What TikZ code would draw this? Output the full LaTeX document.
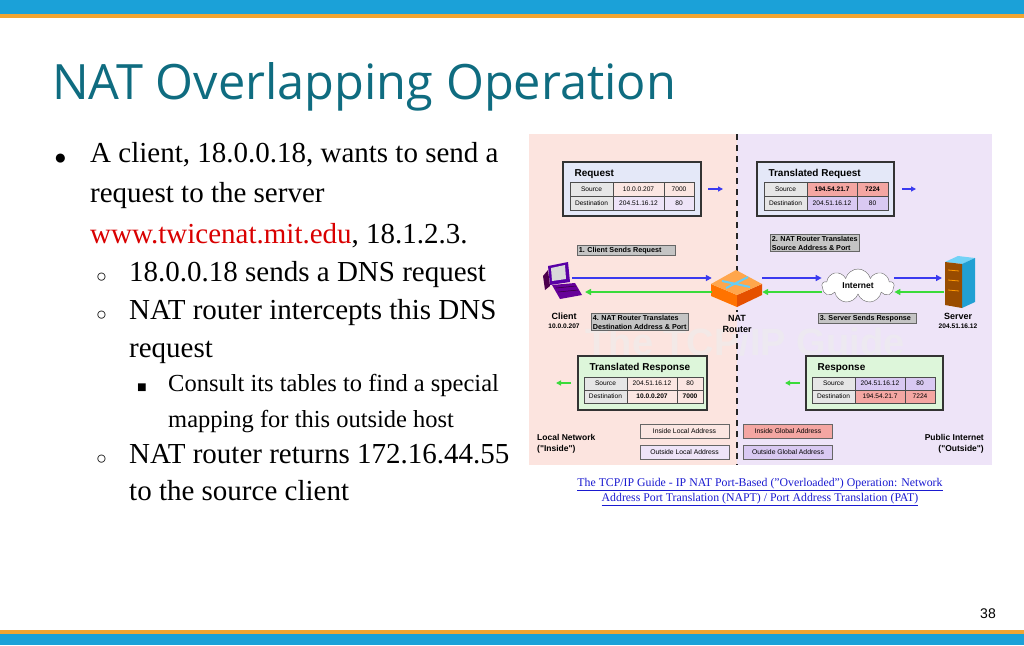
\documentclass[tikz,border=0pt]{standalone}
\usepackage{fontspec}
\setmainfont{Liberation Serif}
\newfontfamily\titlefont{Open Sans}
\newfontfamily\dsans{Liberation Sans}
\usetikzlibrary{shapes.symbols,arrows.meta}
\definecolor{topblue}{HTML}{1BA1D8}
\definecolor{barorange}{HTML}{F2A531}
\definecolor{titlecol}{HTML}{0F6C80}
\definecolor{lpink}{HTML}{FCE4DF}
\definecolor{lviol}{HTML}{EEE4F8}
\definecolor{boxblue}{HTML}{E4E8F8}
\definecolor{boxgreen}{HTML}{DDF6DA}
\definecolor{cred}{HTML}{F4A6A2}
\definecolor{cviol}{HTML}{D9C9F2}
\definecolor{cpink}{HTML}{FBE6E2}
\definecolor{cgray}{HTML}{E6E6E6}
\definecolor{lblgray}{HTML}{C4C4C4}
\definecolor{lineblue}{HTML}{3A3AF0}
\definecolor{linegreen}{HTML}{3ADB3A}
\definecolor{linkblue}{HTML}{1A1AD0}
\newcommand\cellbox[6]{\path[draw=black!70,fill=#5,line width=0.6] (#1,#2) rectangle (#3,#4);
  \node[font=\dsans\fontsize{6.6}{7}\selectfont] at ({(#1+#3)/2},{(#2+#4)/2}) {#6};}
\tikzset{
  bigbox/.style={draw=black!80,line width=1.6},
  lbl/.style={draw=black!60,fill=lblgray,line width=0.6,font=\dsans\bfseries\fontsize{7.2}{9}\selectfont,align=left,inner sep=1.5,anchor=north west},
  leg/.style={draw=black!60,line width=0.6,font=\dsans\fontsize{6.8}{7}\selectfont,minimum width=89,minimum height=14,inner sep=0},
  dlab/.style={font=\dsans\bfseries\fontsize{9}{10}\selectfont,align=center},
  dsub/.style={font=\dsans\bfseries\fontsize{6.6}{7}\selectfont},
  btitle/.style={font=\dsans\bfseries\fontsize{10}{10}\selectfont,anchor=base west},
  body/.style={anchor=base west,font=\fontsize{29}{30}\selectfont},
  sub/.style={anchor=base west,font=\fontsize{24.5}{26}\selectfont},
  blueln/.style={draw=lineblue,line width=2,-{Triangle[length=6,width=6]}},
  greenln/.style={draw=linegreen,line width=2,-{Triangle[length=6,width=6]}},
}
\begin{document}
\begin{tikzpicture}[x=1pt,y=-1pt]
\useasboundingbox (0,0) rectangle (1024,645);
\fill[white] (0,0) rectangle (1024,645);
% bars
\fill[topblue] (0,0) rectangle (1024,14);
\fill[barorange] (0,14) rectangle (1024,18);
\fill[barorange] (0,630) rectangle (1024,634);
\fill[topblue] (0,634) rectangle (1024,645);
% title
\node[anchor=base west,text=titlecol,font=\titlefont\fontsize{48.7}{55}\selectfont,inner sep=0] (title) at (52,99) {NAT Overlapping Operation};
% bullets
\node[anchor=base west,font=\dsans\fontsize{21}{21}\selectfont,inner sep=0] (b1) at (54,164) {●};
\node[body,inner sep=0] (t1) at (90,162) {A client, 18.0.0.18, wants to send a};
\node[body,inner sep=0] (t2) at (90,202) {request to the server};
\node[body,inner sep=0] (t3) at (90,243) {\textcolor{red!85!black}{www.twicenat.mit.edu}, 18.1.2.3.};
\node[anchor=base west,font=\dsans\fontsize{18}{18}\selectfont,inner sep=0] (o1) at (96,282) {○};
\node[body,inner sep=0] (t4) at (129,281) {18.0.0.18 sends a DNS request};
\node[anchor=base west,font=\dsans\fontsize{18}{18}\selectfont,inner sep=0] (o2) at (96,320) {○};
\node[body,inner sep=0] (t5) at (129,319) {NAT router intercepts this DNS};
\node[body,inner sep=0] (t6) at (129,357) {request};
\node[anchor=base west,font=\dsans\fontsize{16}{16}\selectfont,inner sep=0] (s1) at (137,392) {■};
\node[sub,inner sep=0] (t7) at (168,391) {Consult its tables to find a special};
\node[sub,inner sep=0] (t8) at (168,427) {mapping for this outside host};
\node[anchor=base west,font=\dsans\fontsize{18}{18}\selectfont,inner sep=0] (o3) at (96,464) {○};
\node[body,inner sep=0] (t9) at (129,463) {NAT router returns 172.16.44.55};
\node[body,inner sep=0] (t10) at (129,500) {to the source client};
% diagram background
\fill[lpink] (529,134) rectangle (737,465);
\fill[lviol] (737,134) rectangle (992,465);
% watermark
\node[text=black!7,font=\dsans\bfseries\fontsize{38}{38}\selectfont,opacity=0.6] (wm) at (745,342) {The TCP/IP Guide};
\draw[black!85,line width=1.5,dash pattern=on 6 off 5] (737,134) -- (737,465);
% Request box
\path[bigbox,fill=boxblue] (563,162) rectangle (701,216);
\node[btitle] (rq) at (571,176) {Request};
\cellbox{570}{182}{613}{196}{cgray}{Source}
\cellbox{613}{182}{664}{196}{cpink}{10.0.0.207}
\cellbox{664}{182}{694}{196}{cpink}{7000}
\cellbox{570}{196}{613}{210}{cgray}{Destination}
\cellbox{613}{196}{664}{210}{lviol}{204.51.16.12}
\cellbox{664}{196}{694}{210}{lviol}{80}
\coordinate (a1s) at (708,189); \coordinate (a1e) at (723,189);
\draw[draw=lineblue,line width=1.2,-{Triangle[length=5,width=5]}] (a1s) -- (a1e);
% Translated Request
\path[bigbox,fill=boxblue] (757,162) rectangle (894,216);
\node[btitle] (trq) at (765,176) {Translated Request};
\cellbox{764}{182}{807}{196}{cgray}{Source}
\cellbox{807}{182}{857}{196}{cred}{\bfseries 194.54.21.7}
\cellbox{857}{182}{888}{196}{cred}{\bfseries 7224}
\cellbox{764}{196}{807}{210}{cgray}{Destination}
\cellbox{807}{196}{857}{210}{cviol}{204.51.16.12}
\cellbox{857}{196}{888}{210}{cviol}{80}
\coordinate (a2s) at (902,189); \coordinate (a2e) at (916,189);
\draw[draw=lineblue,line width=1.2,-{Triangle[length=5,width=5]}] (a2s) -- (a2e);
% step labels
\node[lbl] (l1) at (577,245) {1. Client Sends Request\hspace{12pt}};
\node[lbl] (l2) at (770,234) {2. NAT Router Translates\\Source Address \& Port\hspace{10pt}};
\node[lbl] (l3) at (818,313) {3. Server Sends Response\hspace{4pt}};
\node[lbl] (l4) at (591,313) {4. NAT Router Translates\\Destination Address \& Port};
% client computer
\begin{scope}
\fill[violet!70!blue] (548,266) -- (568,262) -- (570,282) -- (550,285) -- cycle;
\fill[white!70!gray] (551,268) -- (565,265) -- (566,279) -- (552,281) -- cycle;
\fill[violet!60!black] (543,276) -- (548,270) -- (550,286) -- (545,290) -- cycle;
\fill[violet!80!blue] (552,285) -- (575,283) -- (582,295) -- (560,299) -- cycle;
\draw[violet!40!black,line width=0.5] (556,288) -- (576,286) (558,292) -- (578,290);
\end{scope}
\coordinate (client) at (572,278);
\coordinate (clientg) at (585,292);
% router
\fill[orange!90!red] (711,284) -- (711,296) -- (737,307) -- (737,295) -- cycle;
\fill[orange!70!red!90!black] (737,307) -- (762,295) -- (762,284) -- (737,295) -- cycle;
\fill[orange!70!white] (711,284) -- (736,270) -- (762,284) -- (737,295) -- cycle;
\draw[cyan!60!white,line width=2] (722,281) -- (750,287) (726,288) -- (748,277);
\node[inner sep=0,minimum width=50,minimum height=36] (router) at (737,288) {};
% cloud
\node[cloud,cloud puffs=9,draw=black!60,fill=white,minimum width=72,minimum height=34,aspect=2.2,font=\dsans\bfseries\fontsize{8.5}{9}\selectfont,inner sep=0] (cloud) at (858,286) {Internet};
% server
\fill[cyan!55!white] (945,262) -- (958,256) -- (975,258) -- (962,264) -- cycle;
\fill[cyan!70!teal] (962,264) -- (975,258) -- (975,302) -- (962,308) -- cycle;
\fill[orange!60!black] (945,262) -- (962,264) -- (962,308) -- (945,305) -- cycle;
\draw[orange!80!yellow,line width=0.8] (948,270) -- (959,271) (948,280) -- (959,281) (948,290) -- (959,291);
\coordinate (server) at (942,278);
\coordinate (serverg) at (944,292);
% connectors
\draw[blueln] (client) -- (router.west |- client);
\draw[blueln] (router.east |- client) -- (cloud.west |- client);
\draw[blueln] (cloud.east |- client) -- (server);
\draw[greenln] (serverg) -- (cloud.east |- serverg);
\draw[greenln] (cloud.west |- serverg) -- (router.east |- serverg);
\draw[greenln] (router.west |- serverg) -- (clientg);
% device labels
\node[dlab] (cl) at (564,316) {Client};
\node[dsub] (cla) at (564,326) {10.0.0.207};
\fill[lpink] (724,312) rectangle (737,334);
\fill[lviol] (737,312) rectangle (750,334);
\node[dlab] (nl1) at (737,318) {NAT};
\node[dlab] (nl2) at (737,329) {Router};
\node[dlab] (sl) at (958,316) {Server};
\node[dsub] (sla) at (958,326) {204.51.16.12};
% Translated Response
\path[bigbox,fill=boxgreen] (578,356) rectangle (707,410);
\node[btitle] (trs) at (586,370) {Translated Response};
\cellbox{584}{377}{627}{390}{cgray}{Source}
\cellbox{627}{377}{677}{390}{cpink}{204.51.16.12}
\cellbox{677}{377}{703}{390}{cpink}{80}
\cellbox{584}{390}{627}{403}{cgray}{Destination}
\cellbox{627}{390}{677}{403}{cpink}{\bfseries 10.0.0.207}
\cellbox{677}{390}{703}{403}{cpink}{\bfseries 7000}
\coordinate (a3s) at (571,383); \coordinate (a3e) at (556,383);
\draw[draw=linegreen,line width=1.2,-{Triangle[length=5,width=5]}] (a3s) -- (a3e);
% Response
\path[bigbox,fill=boxgreen] (806,356) rectangle (943,410);
\node[btitle] (rs) at (814,370) {Response};
\cellbox{812}{377}{855}{390}{cgray}{Source}
\cellbox{855}{377}{905}{390}{cviol}{204.51.16.12}
\cellbox{905}{377}{935}{390}{cviol}{80}
\cellbox{812}{390}{855}{403}{cgray}{Destination}
\cellbox{855}{390}{905}{403}{cred}{194.54.21.7}
\cellbox{905}{390}{935}{403}{cred}{7224}
\coordinate (a4s) at (800,383); \coordinate (a4e) at (785,383);
\draw[draw=linegreen,line width=1.2,-{Triangle[length=5,width=5]}] (a4s) -- (a4e);
% legend
\node[leg,fill=cpink] (il) at (684.5,431) {Inside Local Address};
\node[leg,fill=lviol] (ol) at (684.5,452) {Outside Local Address};
\node[leg,fill=cred] (ig) at (788,431) {Inside Global Address};
\node[leg,fill=cviol] (og) at (788,452) {Outside Global Address};
\node[dlab,align=left,anchor=north west,inner sep=0,font=\dsans\bfseries\fontsize{8.5}{11}\selectfont] (ln) at (537,434) {Local Network\\("Inside")};
\node[dlab,align=right,anchor=north east,inner sep=0,font=\dsans\bfseries\fontsize{8.5}{11}\selectfont] (pn) at (984,434) {Public Internet\\("Outside")};
% caption
\node[text=linkblue,font=\fontsize{11.8}{15}\selectfont,align=center] (cap) at (760,492) {\underline{The TCP/IP Guide - IP NAT Port-Based ("Overloaded") Operation: Network}\\\underline{Address Port Translation (NAPT) / Port Address Translation (PAT)}};
% page number
\node[font=\dsans\fontsize{14}{14}\selectfont] (pg) at (988,614) {38};
\end{tikzpicture}
\end{document}
